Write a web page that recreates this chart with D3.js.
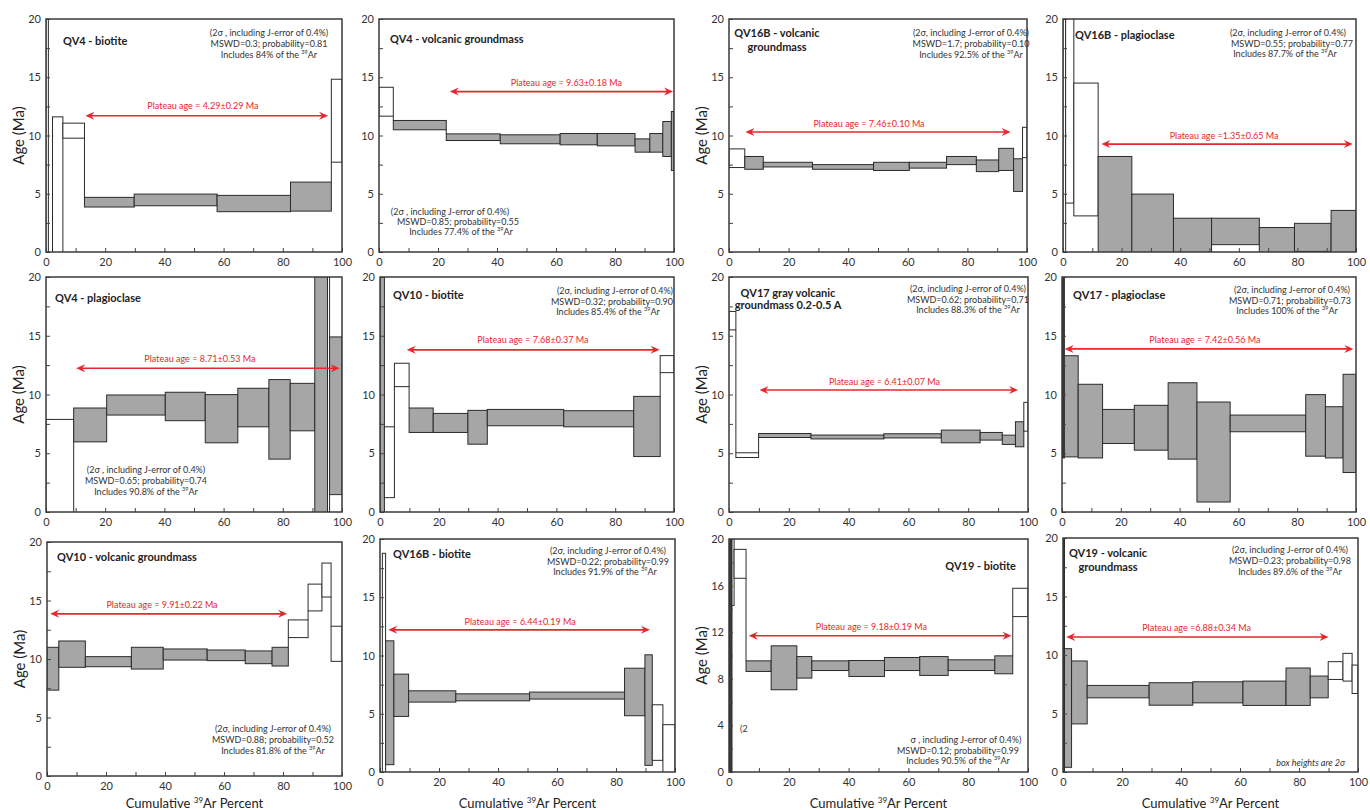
<!DOCTYPE html>
<html><head><meta charset="utf-8">
<script src="https://cdn.jsdelivr.net/npm/d3@7"></script>
<style>body{margin:0;background:#fff}svg text{font-family:Lato,"Open Sans",sans-serif}</style>
</head><body><svg id="c" width="1370" height="810"></svg>
<script>
// ---------------- DATA ----------------
// each step: [cum39Ar start %, cum39Ar end %, age low (Ma), age high (Ma), type 0=excluded 1=plateau 2=dark]
const xTickValues = [0, 20, 40, 60, 80, 100];
const yTickValues = [0, 5, 10, 15, 20];
const yTickValuesQV19bio = [0, 4, 8, 12, 16, 20];

const stepsQV4bio = [[0,0.8,-1,25,0],[2.2,5.7,-1,11.6,0],[5.7,13.0,9.77,11.06,0],[13.0,29.8,3.86,4.69,1],[29.8,57.8,3.97,4.97,1],[57.8,82.6,3.46,4.86,1],[82.6,96.4,3.51,6.0,1],[96.4,100,7.71,14.83,0]];
const stepsQV4gm = [[0,4.85,11.66,14.14,0],[4.85,22.8,10.49,11.29,1],[22.8,41.1,9.57,10.14,1],[41.1,61.4,9.29,10.06,1],[61.4,74.0,9.2,10.17,1],[74.0,86.8,9.11,10.17,1],[86.8,91.8,8.57,9.71,1],[91.8,96.2,8.57,10.17,1],[96.2,99.1,8.2,11.2,1],[99.1,100,7.0,12.06,1]];
const stepsQV16Bgm = [[0,5.3,7.25,8.85,0],[5.3,11.5,7.1,8.2,1],[11.5,28,7.3,7.7,1],[28,48.5,7.1,7.5,1],[48.5,60.5,7.0,7.7,1],[60.5,73,7.2,7.7,1],[73,83,7.5,8.2,1],[83,90.5,6.9,7.9,1],[90.5,95.5,7.0,8.9,1],[95.5,98.5,5.2,8.0,1],[98.5,100,8.1,10.7,0]];
const stepsQV16Bplag = [[0,0.9,-1,25,0],[0.9,3.7,4.2,25,0],[3.7,12.0,3.1,14.5,0],[12.0,23.5,-1,8.2,1],[23.5,37.7,-1,4.97,1],[37.7,50.7,-1,2.9,1],[50.7,67.0,0.63,2.9,1],[67.0,79.0,-1,2.1,1],[79.0,91.5,0.05,2.46,1],[91.5,100,-1,3.57,1]];
const stepsQV4plag = [[0,9.35,-1,7.88,0],[9.35,20.5,5.97,8.85,1],[20.5,40.3,8.25,9.96,1],[40.3,53.8,7.77,10.19,1],[53.8,64.8,5.89,9.99,1],[64.8,75.3,7.25,10.53,1],[75.3,82.5,4.5,11.27,1],[82.5,90.8,6.91,10.95,1],[90.8,95.1,-1,25,1],[95.1,95.8,-1,25,0],[95.8,100,1.48,14.9,1]];
const stepsQV10bio = [[0,1.5,-1,25,1],[1.5,4.9,1.22,7.25,0],[4.9,9.9,10.67,12.66,0],[9.9,18.1,6.77,8.85,1],[18.1,29.9,6.77,8.39,1],[29.9,36.5,5.77,8.65,1],[36.5,62.5,7.34,8.73,1],[62.5,86.3,7.25,8.62,1],[86.3,95.3,4.72,9.84,1],[95.3,100,11.86,13.31,0]];
const stepsQV17gm = [[0,2.3,15.5,17.07,0],[2.3,9.9,4.64,5.04,0],[9.9,27.4,6.34,6.68,1],[27.4,51.8,6.22,6.55,1],[51.8,71.0,6.3,6.66,1],[71.0,84.0,5.89,6.97,1],[84.0,91.4,6.12,6.77,1],[91.4,95.8,5.75,6.54,1],[95.8,98.6,5.55,7.68,1],[98.6,100,6.88,9.33,0]];
const stepsQV17plag = [[0,0.8,4.6,25,2],[0.8,5.5,4.69,13.3,1],[5.5,13.8,4.6,10.87,1],[13.8,24.6,5.83,8.73,1],[24.6,36.1,5.26,9.08,1],[36.1,45.9,4.5,11.0,1],[45.9,57.2,0.85,9.36,1],[57.2,82.9,6.83,8.25,1],[82.9,89.6,4.75,9.99,1],[89.6,95.6,4.6,8.96,1],[95.6,100,3.36,11.72,1]];
const stepsQV10gm = [[0,4,7.34,11.0,1],[4,13,9.29,11.54,1],[13,28.6,9.34,10.2,1],[28.6,39.4,9.14,11.0,1],[39.4,54.3,9.91,10.86,1],[54.3,67.2,9.86,10.77,1],[67.2,76.3,9.6,10.69,1],[76.3,81.8,9.4,11.0,1],[81.8,88.5,11.83,13.34,0],[88.5,93.2,14.11,16.4,0],[93.2,96.3,15.3,18.2,0],[96.3,100,9.8,12.8,0]];
const stepsQV16Bbio = [[0.8,1.9,-1,18.77,0],[1.9,4.7,0.63,11.26,1],[4.7,9.7,4.77,8.4,1],[9.7,25.7,6.0,6.97,1],[25.7,50.7,6.11,6.71,1],[50.7,82.9,6.26,6.86,1],[82.9,89.8,4.83,8.91,1],[89.8,92.3,0.57,10.06,1],[92.3,95.9,1.0,5.77,0],[95.9,100,-1,4.06,0]];
const stepsQV19bio = [[0,1.0,-1,25,2],[1.0,1.7,14.3,25,0],[1.7,5.7,16.63,19.11,0],[5.7,14.1,8.63,9.54,1],[14.1,22.7,7.06,10.83,1],[22.7,27.7,8.06,9.91,1],[27.7,40.1,8.71,9.54,1],[40.1,52.0,8.2,9.57,1],[52.0,63.8,8.71,9.83,1],[63.8,73.3,8.29,9.91,1],[73.3,88.9,8.71,9.63,1],[88.9,94.9,8.43,9.97,1],[94.9,100,13.34,15.77,0]];
const stepsQV19gm = [[0,0.5,-1,25,2],[0.5,2.9,0.4,10.54,1],[2.9,8.2,4.11,9.49,1],[8.2,29.2,6.34,7.4,1],[29.2,44.0,5.71,7.63,1],[44.0,61.0,5.91,7.71,1],[61.0,75.6,5.69,7.77,1],[75.6,83.8,5.69,8.89,1],[83.8,89.9,6.34,8.2,1],[89.9,94.9,7.91,9.43,0],[94.9,98.0,7.77,10.14,0],[98.0,100,6.71,9.14,0]];

// plateau arrows: [from %, to %, drawn at age]
const plateauRanges = [[13.3,95.3,11.7],[24.0,99.7,13.77],[5.5,94.5,10.3],[13.1,98.9,9.26],[10.2,99.2,12.23],[9.1,95.1,13.8],[10.2,96.7,10.38],[0.9,99.1,13.88],[1.1,81.4,13.86],[2.8,91.5,12.2],[6.6,94.5,11.69],[1.1,90.0,11.54]];
const plateauLabels = ["Plateau age = 4.29±0.29 Ma","Plateau age = 9.63±0.18 Ma","Plateau age = 7.46±0.10 Ma","Plateau age =1.35±0.65 Ma","Plateau age = 8.71±0.53 Ma","Plateau age = 7.68±0.37 Ma","Plateau age = 6.41±0.07 Ma","Plateau age = 7.42±0.56 Ma","Plateau age = 9.91±0.22 Ma","Plateau age = 6.44±0.19 Ma","Plateau age = 9.18±0.19 Ma","Plateau age =6.88±0.34 Ma"];
const sampleTitles = [["QV4 - biotite"],["QV4 - volcanic groundmass"],["QV16B - volcanic","groundmass"],["QV16B - plagioclase"],["QV4 - plagioclase"],["QV10 - biotite"],["QV17 gray volcanic","groundmass 0.2-0.5 A"],["QV17 - plagioclase"],["QV10 - volcanic groundmass"],["QV16B - biotite"],["QV19 - biotite"],["QV19 - volcanic","groundmass"]];
const statsTexts = [
 ["(2σ , including J-error of 0.4%)","MSWD=0.3; probability=0.81","Includes 84% of the ^39Ar"],
 ["(2σ , including J-error of 0.4%)","MSWD=0.85; probability=0.55","Includes 77.4% of the ^39Ar"],
 ["(2σ, including J-error of 0.4%)","MSWD=1.7; probability=0.10","Includes 92.5% of the ^39Ar"],
 ["(2σ, including J-error of 0.4%)","MSWD=0.55; probability=0.77","Includes 87.7% of the ^39Ar"],
 ["(2σ , including J-error of 0.4%)","MSWD=0.65; probability=0.74","Includes 90.8% of the ^39Ar"],
 ["(2σ, including J-error of 0.4%)","MSWD=0.32; probability=0.90","Includes 85.4% of the ^39Ar"],
 ["(2σ, including J-error of 0.4%)","MSWD=0.62; probability=0.71","Includes 88.3% of the ^39Ar"],
 ["(2σ, including J-error of 0.4%)","MSWD=0.71; probability=0.73","Includes 100% of the ^39Ar"],
 ["(2σ, including J-error of 0.4%)","MSWD=0.88; probability=0.52","Includes 81.8% of the ^39Ar"],
 ["(2σ, including J-error of 0.4%)","MSWD=0.22; probability=0.99","Includes 91.9% of the ^39Ar"],
 ["σ , including J-error of 0.4%)","MSWD=0.12; probability=0.99","Includes 90.5% of the ^39Ar"],
 ["(2σ, including J-error of 0.4%)","MSWD=0.23; probability=0.98","Includes 89.6% of the ^39Ar"]
];

// ---------------- LAYOUT ----------------
const layout = [
 {steps:stepsQV4bio,   box:[46,19,342,252],  yl:1, xl:0, title:{a:"start",dx:17,dy:22}, stats:{dx:[223,223,223],dy:14,gap:11}, pl:[53,12.5]},
 {steps:stepsQV4gm,    box:[379,19,674,252], yl:0, xl:0, title:{a:"start",dx:11,dy:20}, stats:{dx:[71,79,82],dy:193,gap:10}, pl:[63.5,14.5]},
 {steps:stepsQV16Bgm,  box:[729,19,1027,252],yl:1, xl:0, title:{a:"middle",dx:48,dy:14,gap:14}, stats:{dx:[242,242,242],dy:14,gap:11}, pl:[47,11.0]},
 {steps:stepsQV16Bplag,box:[1063,19,1356,252],yl:0,xl:0, title:{a:"start",dx:12,dy:16}, stats:{dx:[225,229,222],dy:14,gap:10.5}, pl:[55,10.0]},
 {steps:stepsQV4plag,  box:[46,277,342,512], yl:1, xl:0, title:{a:"start",dx:9,dy:21}, stats:{dx:[100,100,100],dy:193,gap:11}, pl:[52,13.0]},
 {steps:stepsQV10bio,  box:[380,277,674,512],yl:0, xl:0, title:{a:"start",dx:13,dy:18}, stats:{dx:[235,232,228],dy:14,gap:10.5}, pl:[52,14.65]},
 {steps:stepsQV17gm,   box:[729,277,1028,512],yl:1,xl:0, title:{a:"middle",dx:59,dy:16,gap:12}, stats:{dx:[239,239,239],dy:12,gap:10.5}, pl:[52,11.1]},
 {steps:stepsQV17plag, box:[1062,277,1356,512],yl:0,xl:0,title:{a:"start",dx:11,dy:18}, stats:{dx:[230,228,225],dy:13,gap:10.5}, pl:[48.6,14.65]},
 {steps:stepsQV10gm,   box:[47,542,342,776], yl:1, xl:1, title:{a:"start",dx:10,dy:15}, stats:{dx:[226,226,226],dy:187,gap:11}, pl:[39,14.63]},
 {steps:stepsQV16Bbio, box:[380,539,675,772],yl:0, xl:1, title:{a:"start",dx:13,dy:15}, stats:{dx:[228,228,225],dy:12,gap:10.5}, pl:[47.5,12.9]},
 {steps:stepsQV19bio,  box:[729,539,1028,772],yl:1,xl:1, title:{a:"end",dx:12,dy:27}, stats:{dx:[237,229,229],dy:201,gap:10.5}, pl:[47.6,12.43], yt:yTickValuesQV19bio, minor:2},
 {steps:stepsQV19gm,   box:[1063,538,1358,772],yl:0,xl:1, title:{a:"middle",dx:45,dy:15,gap:14}, stats:{dx:[227,227,227],dy:12,gap:11}, pl:[45.3,12.34]}
];

const FILL = ["#ffffff","#a6a6a6","#3a3a3a"];
const RED = "#e8262b";
const svg = d3.select("#c");
const STAT_FS = 9;

function rich(sel, str, size){
  const parts = str.split(/(\^\d+)/).filter(p => p.length);
  let back = 0;
  parts.forEach(p => {
    const t = sel.append("tspan");
    if (p[0] === "^") { t.attr("dy", -size*0.4).attr("font-size", size*0.62).text(p.slice(1)); back = size*0.4; }
    else { if (back) { t.attr("dy", back); back = 0; } t.text(p); }
  });
}

layout.forEach((P, i) => {
  const [l, t, r, b] = P.box;
  const x = d3.scaleLinear().domain([0,100]).range([l, r]);
  const y = d3.scaleLinear().domain([0,20]).range([b, t]);
  const g = svg.append("g");
  const cid = "clip" + i;
  svg.append("clipPath").attr("id", cid).append("rect").attr("x", l).attr("y", t).attr("width", r-l).attr("height", b-t);
  const cg = g.append("g").attr("clip-path", `url(#${cid})`);

  // steps
  cg.selectAll("rect.step").data(P.steps).join("rect").attr("class","step")
    .attr("x", d => x(d[0])).attr("width", d => x(d[1]) - x(d[0]))
    .attr("y", d => y(d[3])).attr("height", d => y(d[2]) - y(d[3]))
    .attr("fill", d => FILL[d[4]]).attr("stroke", "#2b2b2b").attr("stroke-width", 1);
  // connectors between adjacent steps
  const conn = [];
  for (let k = 1; k < P.steps.length; k++) {
    const a = P.steps[k-1], c = P.steps[k];
    if (Math.abs(a[1] - c[0]) > 0.01) continue;
    if (c[2] > a[3]) conn.push([c[0], a[3], c[2]]);
    else if (a[2] > c[3]) conn.push([c[0], c[3], a[2]]);
  }
  cg.selectAll("line.conn").data(conn).join("line")
    .attr("x1", d => x(d[0])).attr("x2", d => x(d[0]))
    .attr("y1", d => y(d[1])).attr("y2", d => y(d[2]))
    .attr("stroke", "#2b2b2b").attr("stroke-width", 1);

  // axes
  const yt = P.yt || yTickValues;
  const minorStep = P.minor || 2.5;
  const yMinor = d3.range(0, 20.001, minorStep);
  const xMinor = d3.range(0, 100.001, 10);
  const ax = g.append("g").attr("transform", `translate(0,${b})`)
    .call(d3.axisBottom(x).tickValues(xMinor).tickSize(-4).tickFormat(""));
  ax.select(".domain").remove();
  const axl = g.append("g").attr("transform", `translate(0,${b})`)
    .call(d3.axisBottom(x).tickValues(xTickValues).tickSize(0).tickPadding(6));
  axl.select(".domain").remove();
  axl.selectAll("text").attr("font-size", 11).attr("fill", "#333");
  const ay = g.append("g").attr("transform", `translate(${l},0)`)
    .call(d3.axisLeft(y).tickValues(yMinor).tickSize(-4).tickFormat(""));
  ay.select(".domain").remove();
  const ayl = g.append("g").attr("transform", `translate(${l},0)`)
    .call(d3.axisLeft(y).tickValues(yt).tickSize(0).tickPadding(5));
  ayl.select(".domain").remove();
  ayl.selectAll("text").attr("font-size", 11).attr("fill", "#333");
  g.selectAll(".tick line").attr("stroke", "#444");

  // frame
  g.append("rect").attr("x", l).attr("y", t).attr("width", r-l).attr("height", b-t)
    .attr("fill", "none").attr("stroke", "#3a3a3a").attr("stroke-width", 1.5);

  // axis titles
  if (P.yl) {
    g.append("text").attr("transform", `translate(${l-28},${(t+b)/2}) rotate(-90)`)
      .attr("text-anchor", "middle").attr("dominant-baseline", "central")
      .attr("font-size", 15).attr("fill", "#222").text("Age (Ma)");
  }
  if (P.xl) {
    const tx = g.append("text").attr("x", (l+r)/2).attr("y", 808).attr("text-anchor", "middle")
      .attr("font-size", 13).attr("fill", "#222");
    rich(tx, "Cumulative ^39Ar Percent", 13);
  }

  // plateau arrow
  const [pf, pt, pa] = plateauRanges[i];
  const x1 = x(pf), x2 = x(pt), ya = y(pa);
  g.append("line").attr("x1", x1 + 4).attr("x2", x2 - 4).attr("y1", ya).attr("y2", ya)
    .attr("stroke", RED).attr("stroke-width", 1.6);
  g.append("path").attr("d", `M${x1},${ya} L${x1+9},${ya-4} L${x1+6},${ya} L${x1+9},${ya+4} Z`).attr("fill", RED);
  g.append("path").attr("d", `M${x2},${ya} L${x2-9},${ya-4} L${x2-6},${ya} L${x2-9},${ya+4} Z`).attr("fill", RED);
  g.append("text").attr("x", x(P.pl[0])).attr("y", y(P.pl[1]) + 3).attr("text-anchor", "middle")
    .attr("font-size", 9).attr("fill", RED).text(plateauLabels[i]);

  // sample title
  const T = P.title;
  sampleTitles[i].forEach((line, k) => {
    const tx = T.a === "end" ? r - T.dx : l + T.dx;
    g.append("text").attr("x", tx).attr("y", t + T.dy + k*(T.gap||12) + 4)
      .attr("text-anchor", T.a).attr("font-size", 11).attr("font-weight", "bold").attr("fill", "#222").text(line);
  });

  // statistics
  const S = P.stats;
  statsTexts[i].forEach((line, k) => {
    const tx = g.append("text").attr("x", l + S.dx[k]).attr("y", t + S.dy + k*S.gap + 3)
      .attr("text-anchor", "middle").attr("font-size", STAT_FS).attr("fill", "#333");
    rich(tx, line, STAT_FS);
  });
  if (i === 10) {
    g.append("text").attr("x", l + 11).attr("y", t + 190 + 3).attr("font-size", STAT_FS).attr("fill", "#333").text("(2");
  }
  if (i === 11) {
    g.append("text").attr("x", r - 13).attr("y", b - 9 + 3).attr("text-anchor", "end")
      .attr("font-size", STAT_FS).attr("font-style", "italic").attr("fill", "#333").text("box heights are 2σ");
  }
});
</script></body></html>
